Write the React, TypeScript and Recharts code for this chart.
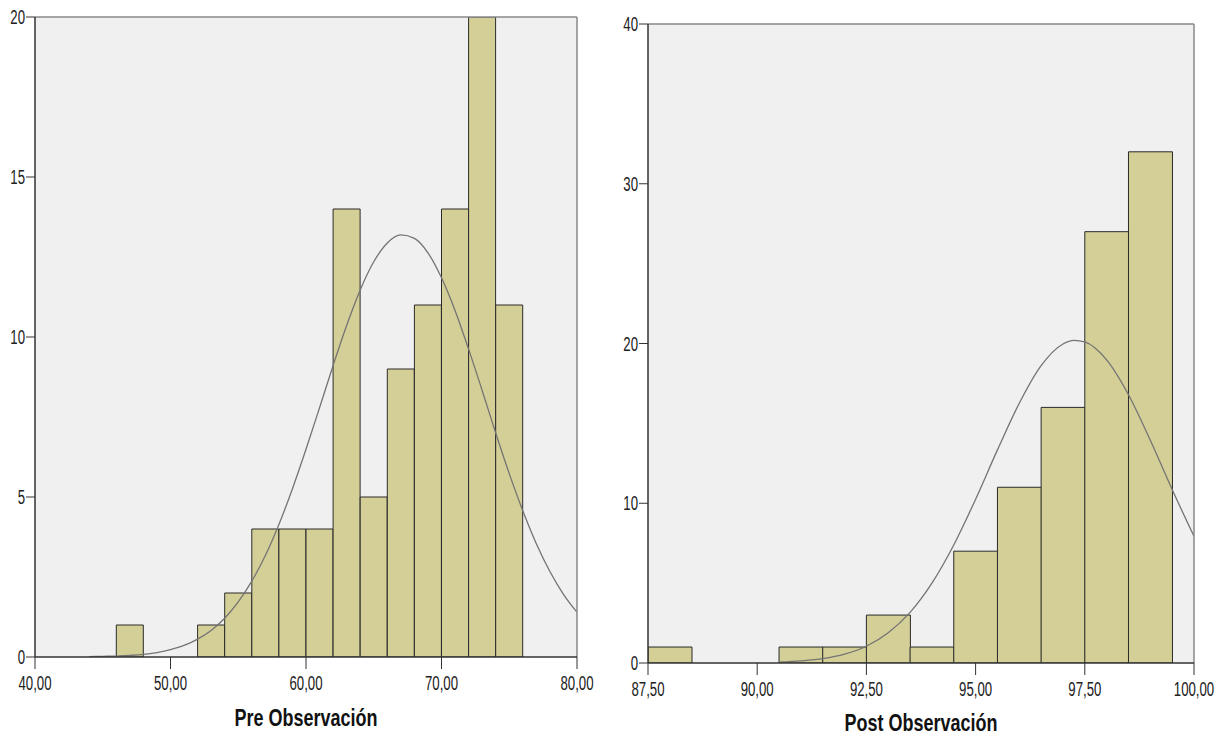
import { ComposedChart, Bar, Line, XAxis, YAxis, CartesianGrid, ReferenceLine } from 'recharts'

// Pre Observación: bin centers (width 2) and frequencies
const preBins = [47, 49, 51, 53, 55, 57, 59, 61, 63, 65, 67, 69, 71, 73, 75]
const preCounts = [1, 0, 0, 1, 2, 4, 4, 4, 14, 5, 9, 11, 14, 20, 11]
const preXTicks = [40, 50, 60, 70, 80]
const preYTicks = [0, 5, 10, 15, 20]
// normal curve
const preCurveX = [44, 45, 46, 47, 48, 49, 50, 51, 52, 53, 54, 55, 56, 57, 58, 59, 60, 61, 62, 63, 64, 65, 66, 67, 68, 69, 70, 71, 72, 73, 74, 75, 76, 77, 78, 79, 80]
const preCurveY = [0.01, 0.02, 0.03, 0.05, 0.08, 0.14, 0.23, 0.36, 0.56, 0.83, 1.21, 1.72, 2.37, 3.17, 4.14, 5.26, 6.49, 7.79, 9.11, 10.36, 11.47, 12.35, 12.94, 13.19, 13.08, 12.63, 11.85, 10.83, 9.62, 8.33, 7.0, 5.73, 4.57, 3.54, 2.67, 1.96, 1.4]

// Post Observación: bin centers (width 1) and frequencies
const postBins = [88, 89, 90, 91, 92, 93, 94, 95, 96, 97, 98, 99]
const postCounts = [1, 0, 0, 1, 1, 3, 1, 7, 11, 16, 27, 32]
const postXTicks = [87.5, 90, 92.5, 95, 97.5, 100]
const postYTicks = [0, 10, 20, 30, 40]
const postCurveX = [90.5, 91, 91.5, 92, 92.5, 93, 93.5, 94, 94.5, 95, 95.5, 96, 96.5, 97, 97.25, 97.5, 98, 98.5, 99, 99.5, 100]
const postCurveY = [0.05, 0.13, 0.27, 0.55, 1.05, 1.89, 3.17, 5.0, 7.39, 10.25, 13.34, 16.26, 18.61, 19.97, 20.2, 20.1, 18.97, 16.79, 13.94, 10.86, 7.93]

const font = '"Liberation Sans", Arial, sans-serif'
const fmt = (v: number) => v.toFixed(2).replace('.', ',')

function XTick(props: any) {
  const { x, y, payload } = props
  return (
    <text transform={`translate(${x},${y + 21}) scale(0.66,1)`} textAnchor="middle" fill="#222" fontSize={20} fontFamily={font}>
      {fmt(payload.value)}
    </text>
  )
}

function YTick(props: any) {
  const { x, y, payload } = props
  return (
    <text transform={`translate(${x},${y + 7}) scale(0.66,1)`} textAnchor="end" fill="#222" fontSize={20} fontFamily={font}>
      {payload.value}
    </text>
  )
}

function Title(props: any) {
  const { viewBox, value, bottom } = props
  const cx = viewBox.x + viewBox.width / 2
  const by = viewBox.y + viewBox.height - bottom
  return (
    <text transform={`translate(${cx},${by}) scale(0.75,1)`} textAnchor="middle" fill="#111" fontSize={24} fontWeight="bold" fontFamily={font}>
      {value}
    </text>
  )
}

type HistProps = {
  bins: number[]
  counts: number[]
  curveX: number[]
  curveY: number[]
  xTicks: number[]
  yTicks: number[]
  title: string
  width: number
  height: number
  margin: { top: number; right: number; left: number; bottom: number }
  yAxisWidth: number
  xAxisHeight: number
  titleBottom: number
}

function Histogram(p: HistProps) {
  const data = p.bins.map((b, i) => ({ x: b, n: p.counts[i] }))
  const curve = p.curveX.map((x, i) => ({ x, y: p.curveY[i] }))
  const xDom: [number, number] = [p.xTicks[0], p.xTicks[p.xTicks.length - 1]]
  const yDom: [number, number] = [p.yTicks[0], p.yTicks[p.yTicks.length - 1]]
  return (
    <ComposedChart width={p.width} height={p.height} data={data} margin={p.margin} barCategoryGap={0} barGap={0}>
      <CartesianGrid fill="#f0f0f0" horizontal={false} vertical={false} />
      <XAxis
        dataKey="x"
        type="number"
        domain={xDom}
        ticks={p.xTicks}
        allowDataOverflow
        height={p.xAxisHeight}
        tickSize={12}
        tickMargin={0}
        tick={XTick}
        stroke="#333"
        axisLine={{ stroke: '#333', strokeWidth: 1.5 }}
        label={<Title value={p.title} bottom={p.titleBottom} />}
      />
      <XAxis xAxisId="c" dataKey="x" type="number" domain={xDom} allowDataOverflow hide />
      <YAxis
        domain={yDom}
        ticks={p.yTicks}
        allowDataOverflow
        width={p.yAxisWidth}
        tickSize={9}
        tickMargin={1}
        tick={YTick}
        stroke="#333"
        axisLine={{ stroke: '#333', strokeWidth: 1.5 }}
      />
      <Bar dataKey="n" fill="#d4cf96" stroke="#2a2a2a" strokeWidth={1} isAnimationActive={false} />
      <Line
        xAxisId="c"
        data={curve}
        dataKey="y"
        type="monotone"
        stroke="#747474"
        strokeWidth={1.3}
        dot={false}
        activeDot={false}
        isAnimationActive={false}
      />
      <ReferenceLine y={yDom[1]} stroke="#888" strokeWidth={1.5} />
      <ReferenceLine x={xDom[1]} stroke="#888" strokeWidth={1.5} />
    </ComposedChart>
  )
}

export default function App() {
  return (
    <div style={{ position: 'absolute', left: 0, top: 0, width: 1225, height: 738, background: '#fff' }}>
      <div style={{ position: 'absolute', left: 0, top: 0 }}>
        <Histogram
          bins={preBins}
          counts={preCounts}
          curveX={preCurveX}
          curveY={preCurveY}
          xTicks={preXTicks}
          yTicks={preYTicks}
          title="Pre Observación"
          width={600}
          height={738}
          margin={{ top: 17, right: 23, left: 0, bottom: 0 }}
          yAxisWidth={35}
          xAxisHeight={81}
          titleBottom={12}
        />
      </div>
      <div style={{ position: 'absolute', left: 600, top: 0 }}>
        <Histogram
          bins={postBins}
          counts={postCounts}
          curveX={postCurveX}
          curveY={postCurveY}
          xTicks={postXTicks}
          yTicks={postYTicks}
          title="Post Observación"
          width={625}
          height={738}
          margin={{ top: 24, right: 31, left: 0, bottom: 0 }}
          yAxisWidth={48}
          xAxisHeight={75}
          titleBottom={7}
        />
      </div>
    </div>
  )
}
